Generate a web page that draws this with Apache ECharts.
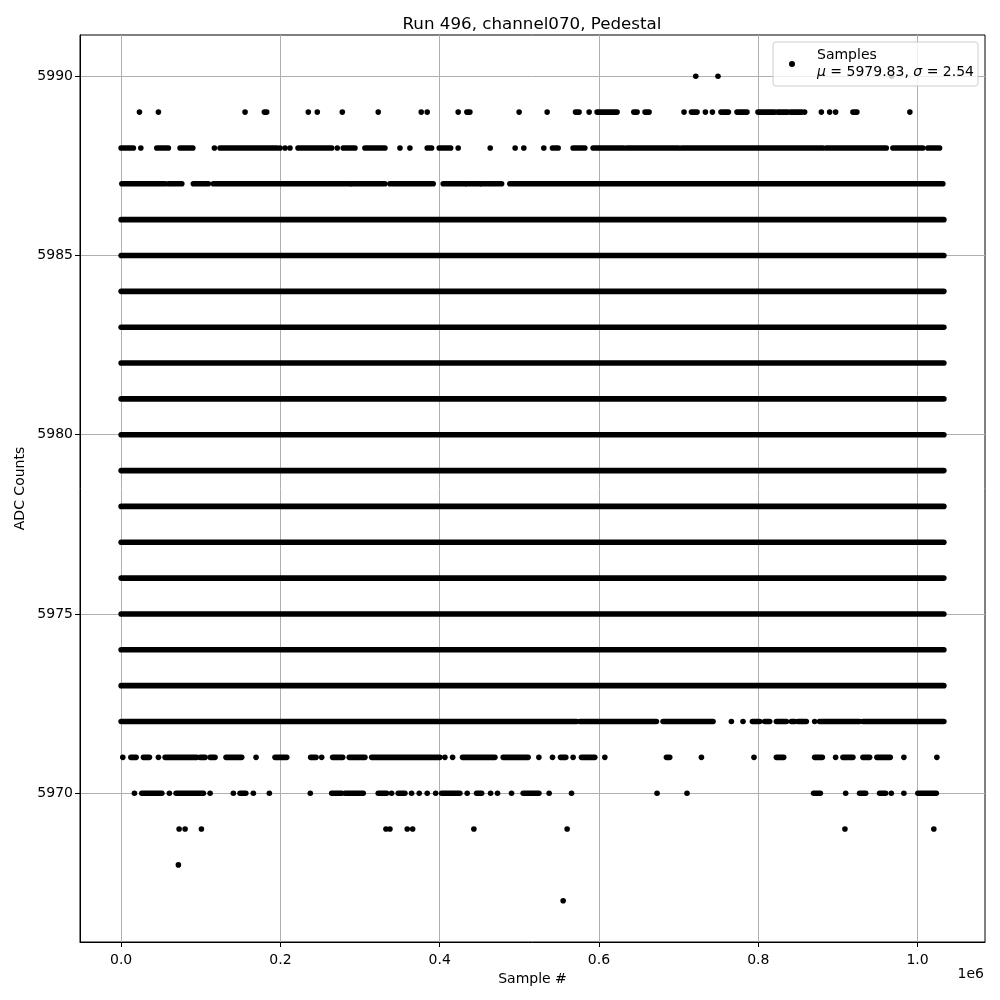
<!DOCTYPE html>
<html><head><meta charset="utf-8">
<script src="https://cdn.jsdelivr.net/npm/echarts@6/dist/echarts.min.js"></script>
<style>html,body{margin:0;padding:0;background:#fff}#c{width:1000px;height:1000px}</style>
</head><body><div id="c"></div>
<script>
// ---- tick labels ----
const xTicks = [0, 200000, 400000, 600000, 800000, 1000000];
const yTicks = [5970, 5975, 5980, 5985, 5990];

// ---- rows (ADC count) that are solid from first to last sample ----
const denseRows = [5973, 5974, 5975, 5976, 5977, 5978, 5979, 5980, 5981, 5982, 5983, 5984, 5985, 5986];
const denseSpan = [0, 1033000];

// ---- partially filled rows: runs of consecutive samples [start, end] ----
const row5987Runs = [[900,55200],[59300,76200],[90700,109500],[115800,287300],[289500,331200],[337500,391800],[404400,431600],[433700,450400],[452600,477700],[488100,1031700]];
const row5988Runs = [[0,15400],[44800,59300],[74000,90000],[124200,195700],[222100,264400],[278900,293600],[306100,331200],[384300,389800],[399400,413700],[541600,548700],[567500,582200],[592600,631100],[634900,700100],[703900,881200],[885400,960700],[969000,1006600],[1012900,1027600]];
const row5989Runs = [[179800,182800],[434100,437900],[570500,575000],[597600,622700],[643700,647800],[657800,662900],[716100,723100],[753200,762500],[773300,785800],[799600,820600],[824300,836900],[840600,854500],[918800,923800]];
const row5972Runs = [[0,571800],[575900,672100],[680400,743200],[792600,801800],[808000,814300],[822700,835300],[841500,845700],[849800,860300],[877000,927200],[931400,1033000]];
const row5971Runs = [[12200,18800],[28000,35500],[55200,95000],[99100,105400],[111700,117900],[131700,151400],[193200,207900],[238000,244700],[265600,278200],[286400,306100],[314600,400200],[428700,469300],[479700,511000],[551700,558300],[578000,594700],[684700,688800],[822700,831900],[870800,880400],[906300,918800],[931400,939800],[948900,965700]];
const row5970Runs = [[26000,51100],[69000,103300],[149300,156500],[264400,276900],[281100,304000],[322800,333400],[347900,356300],[402400,425300],[446300,452600],[504800,524500],[869500,877900],[927200,934800],[952300,959800],[1000400,1023500]];

// ---- isolated samples (sample # per row) ----
const row5990Points = [721500, 749400, 967400];
const row5989Points = [23000, 46800, 155600, 235000, 246300, 277700, 322800, 376800, 384300, 423200, 499700, 534900, 587600, 706800, 733600, 742400, 858200, 879200, 889600, 897100, 990300];
const row5988Points = [24700, 117100, 199500, 205800, 212000, 271400, 350100, 362600, 423200, 463400, 494700, 505600, 530700];
const row5972Points = [766200, 780800, 870800];
const row5971Points = [2100, 46800, 169400, 251800, 406500, 416200, 524500, 541600, 567500, 607300, 728600, 794600, 897100, 982800, 1024200];
const row5970Points = [16700, 60600, 111700, 140900, 166000, 186100, 237500, 339600, 364700, 374300, 384300, 394900, 434500, 463900, 472600, 490200, 537400, 565500, 672900, 710500, 909700, 967000, 982800];
const row5969Points = [72800, 80300, 100800, 332500, 337500, 359200, 366000, 442900, 560000, 908800, 1020400];
const row5968Points = [71900];
const row5967Points = [555000];

const runRows = [[5987,row5987Runs],[5988,row5988Runs],[5989,row5989Runs],[5972,row5972Runs],[5971,row5971Runs],[5970,row5970Runs]];
const pointRows = [[5990,row5990Points],[5989,row5989Points],[5988,row5988Points],[5972,row5972Points],[5971,row5971Points],[5970,row5970Points],[5969,row5969Points],[5968,row5968Points],[5967,row5967Points]];

const runData = [];
denseRows.forEach(r => runData.push([denseSpan[0], denseSpan[1], r]));
runRows.forEach(([r, runs]) => runs.forEach(s => runData.push([s[0], s[1], r])));
const pointData = [];
pointRows.forEach(([r, pts]) => pts.forEach(x => pointData.push([x, r])));

const FONT = 'DejaVu Sans';
const DOT = 5.6;
const chart = echarts.init(document.getElementById('c'), null, {renderer: 'canvas'});
chart.setOption({
  animation: false,
  backgroundColor: '#fff',
  title: {
    text: 'Run 496, channel070, Pedestal',
    left: 527, top: 11, textAlign: 'center',
    textStyle: {fontFamily: FONT, fontSize: 16.7, fontWeight: 'normal', color: '#000'}
  },
  grid: {left: 80, right: 15, top: 35, bottom: 58, show: true, borderColor: '#000', borderWidth: 1, backgroundColor: 'transparent'},
  legend: {
    data: [{name: 'Samples', icon: 'circle'}],
    left: 773, top: 42,
    padding: [5, 4, 5, 16],
    itemWidth: 40, itemHeight: 6,
    itemStyle: {color: '#000', opacity: 1},
    backgroundColor: 'rgba(255,255,255,0.8)',
    borderColor: '#cccccc', borderWidth: 1, borderRadius: 3,
    selectedMode: false,
    formatter: () => 'Samples\n{m|μ} = 5979.83, {m|σ} = 2.54',
    textStyle: {
      fontFamily: FONT, fontSize: 14, color: '#000', lineHeight: 17,
      rich: {m: {fontFamily: FONT, fontStyle: 'italic', fontSize: 14, lineHeight: 17, color: '#000'}}
    }
  },
  xAxis: {
    type: 'value', min: -51650, max: 1084650,
    name: 'Sample #', nameLocation: 'middle', nameGap: 29,
    nameTextStyle: {fontFamily: FONT, fontSize: 14, color: '#000'},
    axisLine: {show: true, onZero: false, lineStyle: {color: '#000', width: 1}},
    axisTick: {show: true, customValues: xTicks, length: 5, lineStyle: {color: '#000', width: 1}},
    axisLabel: {customValues: xTicks, formatter: v => (v / 1e6).toFixed(1), fontFamily: FONT, fontSize: 14, color: '#000', margin: 11},
    splitLine: {show: true, lineStyle: {color: '#b0b0b0', width: 1}}
  },
  yAxis: {
    type: 'value', min: 5965.85, max: 5991.15,
    name: 'ADC Counts', nameLocation: 'middle', nameGap: 53, nameMoveOverlap: false,
    nameTextStyle: {fontFamily: FONT, fontSize: 14, color: '#000'},
    axisLine: {show: true, onZero: false, lineStyle: {color: '#000', width: 1}},
    axisTick: {show: true, customValues: yTicks, length: 5, lineStyle: {color: '#000', width: 1}},
    axisLabel: {customValues: yTicks, formatter: v => String(v), fontFamily: FONT, fontSize: 14, color: '#000', margin: 7},
    splitLine: {show: true, lineStyle: {color: '#b0b0b0', width: 1}}
  },
  graphic: [{
    type: 'text', right: 16, top: 967,
    style: {text: '1e6', font: '14px "DejaVu Sans"', fill: '#000'}
  }],
  series: [
    {
      name: 'Samples', type: 'custom', color: '#000',
      encode: {x: [0, 1], y: 2},
      renderItem: (params, api) => {
        const p0 = api.coord([api.value(0), api.value(2)]);
        const p1 = api.coord([api.value(1), api.value(2)]);
        return {type: 'line', shape: {x1: p0[0], y1: p0[1], x2: p1[0], y2: p1[1]},
                style: {stroke: '#000', lineWidth: DOT, lineCap: 'round'}};
      },
      data: runData, z: 3
    },
    {
      name: 'Samples', type: 'scatter', color: '#000',
      symbol: 'circle', symbolSize: DOT,
      itemStyle: {color: '#000', opacity: 1},
      data: pointData, z: 3
    }
  ]
});
</script></body></html>
